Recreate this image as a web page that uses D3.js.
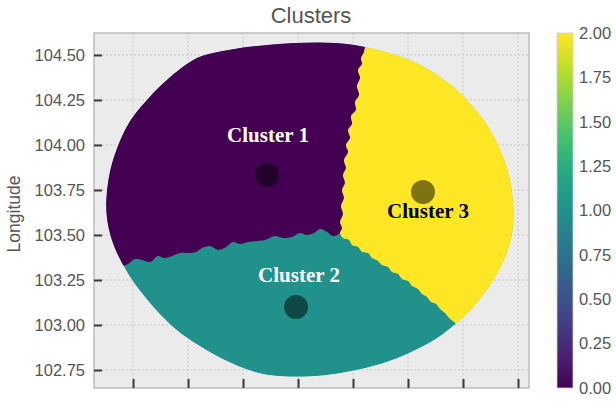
<!DOCTYPE html>
<html>
<head>
<meta charset="utf-8">
<script src="https://cdn.jsdelivr.net/npm/d3@7"></script>
<style>
  body { margin: 0; background: #fff; }
  svg { display: block; }
</style>
</head>
<body>
<svg id="chart" width="616" height="403"></svg>
<script>
// ---- axis limits and ticks ----
const xDomain = [1.1645, 1.56];
const yDomain = [102.65, 104.622];
const xTicks = [1.20, 1.25, 1.30, 1.35, 1.40, 1.45, 1.50, 1.55];
const yTicks = [102.75, 103.00, 103.25, 103.50, 103.75, 104.00, 104.25, 104.50];
const colorTicks = [0, 0.25, 0.5, 0.75, 1.0, 1.25, 1.5, 1.75, 2.0];

// ---- clusters ----
const clusterIds = [0, 1, 2];
const clusterNames = ["Cluster 1", "Cluster 2", "Cluster 3"];
const centroidX = [1.3218, 1.3482, 1.4636];
const centroidY = [103.833, 103.100, 103.739];
const labelX = [1.3227, 1.3509, 1.4682];
const labelY = [104.017, 103.239, 103.594];

// outer edge of the sampled area [x, longitude], clockwise from the upper left
const outline = [
  [1.2609, 104.500], [1.2882, 104.531], [1.3155, 104.553], [1.3427, 104.567],
  [1.3700, 104.572], [1.3973, 104.564], [1.4200, 104.533], [1.4427, 104.494],
  [1.4627, 104.444], [1.4791, 104.378], [1.4927, 104.317], [1.5036, 104.250],
  [1.5182, 104.150], [1.5291, 104.039], [1.5373, 103.928], [1.5427, 103.817],
  [1.5455, 103.706], [1.5464, 103.594], [1.5445, 103.489], [1.5391, 103.383],
  [1.5318, 103.294], [1.5236, 103.211], [1.5127, 103.122], [1.4991, 103.033],
  [1.4827, 102.950], [1.4636, 102.878], [1.4400, 102.811], [1.4136, 102.761],
  [1.3864, 102.728], [1.3609, 102.711], [1.3336, 102.711], [1.3109, 102.733],
  [1.2900, 102.783], [1.2673, 102.856], [1.2482, 102.928], [1.2318, 103.011],
  [1.2173, 103.106], [1.2045, 103.200], [1.1936, 103.300], [1.1855, 103.394],
  [1.1791, 103.494], [1.1755, 103.606], [1.1755, 103.706], [1.1773, 103.806],
  [1.1809, 103.906], [1.1864, 104.000], [1.1936, 104.100], [1.2027, 104.183],
  [1.2127, 104.250], [1.2227, 104.317], [1.2336, 104.378], [1.2473, 104.444]
];

// border between cluster 1 and cluster 3, top down to the triple point
const boundary13 = [
  [1.4118, 104.583], [1.4100, 104.517], [1.4073, 104.483], [1.4082, 104.450],
  [1.4045, 104.417], [1.4064, 104.372], [1.4036, 104.328], [1.4055, 104.278],
  [1.4018, 104.239], [1.4027, 104.194], [1.3982, 104.161], [1.3991, 104.117],
  [1.3955, 104.083], [1.3973, 104.039], [1.3936, 104.000], [1.3955, 103.961],
  [1.3918, 103.917], [1.3936, 103.872], [1.3909, 103.833], [1.3927, 103.789],
  [1.3900, 103.750], [1.3918, 103.706], [1.3891, 103.661], [1.3909, 103.617],
  [1.3882, 103.572], [1.3900, 103.539], [1.3882, 103.511]
];

// border between cluster 1 and cluster 2, triple point to the left edge
const boundary12 = [
  [1.3818, 103.494], [1.3764, 103.517], [1.3700, 103.533], [1.3645, 103.511],
  [1.3582, 103.500], [1.3518, 103.511], [1.3445, 103.489], [1.3364, 103.483],
  [1.3291, 103.494], [1.3200, 103.472], [1.3127, 103.467], [1.3045, 103.461],
  [1.2973, 103.450], [1.2909, 103.461], [1.2845, 103.433], [1.2773, 103.417],
  [1.2700, 103.439], [1.2627, 103.428], [1.2573, 103.406], [1.2500, 103.400],
  [1.2427, 103.400], [1.2355, 103.383], [1.2282, 103.372], [1.2227, 103.383],
  [1.2155, 103.350], [1.2082, 103.361], [1.2018, 103.367], [1.1955, 103.339],
  [1.1900, 103.328], [1.1809, 103.322], [1.1655, 103.317]
];

// border between cluster 2 and cluster 3, triple point to the lower right edge
const boundary23 = [
  [1.3909, 103.483], [1.3964, 103.472], [1.3991, 103.444], [1.4045, 103.433],
  [1.4082, 103.406], [1.4136, 103.400], [1.4173, 103.372], [1.4227, 103.356],
  [1.4264, 103.333], [1.4318, 103.322], [1.4355, 103.294], [1.4409, 103.283],
  [1.4445, 103.256], [1.4500, 103.244], [1.4536, 103.217], [1.4591, 103.200],
  [1.4627, 103.172], [1.4673, 103.156], [1.4709, 103.128], [1.4755, 103.117],
  [1.4791, 103.089], [1.4836, 103.067], [1.4873, 103.039], [1.4918, 103.017],
  [1.4973, 102.983], [1.5064, 102.939]
];

// ---- layout ----
const plot = { left: 94, right: 529, top: 33, bottom: 388 };
const svg = d3.select("#chart");
const sansFont = "'Liberation Sans', Arial, sans-serif";
const textGray = "#555";

const x = d3.scaleLinear().domain(xDomain).range([plot.left, plot.right]);
const y = d3.scaleLinear().domain(yDomain).range([plot.bottom, plot.top]);
const color = d3.scaleSequential(d3.interpolateViridis).domain([0, 2]);

// plot background
svg.append("rect")
  .attr("x", plot.left).attr("y", plot.top)
  .attr("width", plot.right - plot.left).attr("height", plot.bottom - plot.top)
  .attr("fill", "#ebebeb");

// dashed grid
const grid = svg.append("g").attr("stroke", "#c9c9c9").attr("stroke-width", 1)
  .attr("stroke-dasharray", "2,2");
grid.selectAll("line.gx").data(xTicks).join("line").attr("class", "gx")
  .attr("x1", d => x(d)).attr("x2", d => x(d))
  .attr("y1", plot.top).attr("y2", plot.bottom);
grid.selectAll("line.gy").data(yTicks).join("line").attr("class", "gy")
  .attr("y1", d => y(d)).attr("y2", d => y(d))
  .attr("x1", plot.left).attr("x2", plot.right);

// cluster regions
const ringLine = d3.line().x(d => x(d[0])).y(d => y(d[1]))
  .curve(d3.curveBasisClosed);
const edgeLine = d3.line().x(d => x(d[0])).y(d => y(d[1]))
  .curve(d3.curveCatmullRom.alpha(0.5));

svg.append("clipPath").attr("id", "area-clip")
  .append("path").attr("d", ringLine(outline));

const regions = svg.append("g").attr("clip-path", "url(#area-clip)");

// cluster 2 fills the whole area, the other two are laid over it
regions.append("path").attr("d", ringLine(outline)).attr("fill", color(clusterIds[1]));

const topY = y(yDomain[1]);
const bottomY = y(yDomain[0]);
const leftX = x(xDomain[0]);
const rightX = x(xDomain[1]);

const purplePath = edgeLine(boundary13.concat(boundary12)) +
  `L${leftX},${topY}L${x(boundary13[0][0])},${topY}Z`;
regions.append("path").attr("d", purplePath).attr("fill", color(clusterIds[0]));

const lastEdge = boundary23[boundary23.length - 1];
const yellowPath = edgeLine([...boundary23].reverse().concat([...boundary13].reverse())) +
  `L${x(boundary13[0][0])},${topY}L${rightX},${topY}L${rightX},${bottomY}` +
  `L${x(lastEdge[0])},${bottomY}Z`;
regions.append("path").attr("d", yellowPath).attr("fill", color(clusterIds[2]));

// frame
svg.append("rect")
  .attr("x", plot.left).attr("y", plot.top)
  .attr("width", plot.right - plot.left).attr("height", plot.bottom - plot.top)
  .attr("fill", "none").attr("stroke", "#bdbdbd").attr("stroke-width", 1.5);

// axes with inward ticks
const yAxis = d3.axisLeft(y).tickValues(yTicks).tickFormat(d3.format(".2f"))
  .tickSizeInner(-8).tickSizeOuter(0).tickPadding(9);
const gy = svg.append("g").attr("transform", `translate(${plot.left},0)`).call(yAxis);
gy.select(".domain").remove();
gy.selectAll(".tick line").attr("stroke", "#3a3a3a").attr("stroke-width", 2);
gy.selectAll(".tick text").attr("fill", textGray)
  .style("font-family", sansFont).style("font-size", "16.5px");

const xAxis = d3.axisBottom(x).tickValues(xTicks).tickFormat("")
  .tickSizeInner(-9).tickSizeOuter(0);
const gx = svg.append("g").attr("transform", `translate(0,${plot.bottom})`).call(xAxis);
gx.select(".domain").remove();
gx.selectAll(".tick line").attr("stroke", "#3a3a3a").attr("stroke-width", 2);

// centroids
svg.append("g").selectAll("circle").data(clusterIds).join("circle")
  .attr("cx", i => x(centroidX[i])).attr("cy", i => y(centroidY[i]))
  .attr("r", 12).attr("fill", "#000").attr("fill-opacity", 0.5);

// cluster labels
svg.append("g").selectAll("text").data(clusterIds).join("text")
  .attr("x", i => x(labelX[i])).attr("y", i => y(labelY[i]))
  .attr("text-anchor", "middle")
  .attr("fill", i => d3.lab(color(i)).l > 70 ? "#000" : "#fff")
  .style("font-family", "'Liberation Serif', 'Times New Roman', serif")
  .style("font-weight", "bold").style("font-size", "21px")
  .text(i => clusterNames[i]);

// title and axis label
svg.append("text").attr("x", 311).attr("y", 23).attr("text-anchor", "middle")
  .attr("fill", textGray).style("font-family", sansFont).style("font-size", "22px")
  .text("Clusters");

svg.append("text").attr("transform", "translate(20,214) rotate(-90)")
  .attr("text-anchor", "middle").attr("fill", textGray)
  .style("font-family", sansFont).style("font-size", "17.5px")
  .text("Longitude");

// colour bar
const cb = { x: 557, width: 16 };
const cbScale = d3.scaleLinear().domain([0, 2]).range([plot.bottom, plot.top]);
const grad = svg.append("defs").append("linearGradient").attr("id", "viridis-bar")
  .attr("x1", 0).attr("y1", 1).attr("x2", 0).attr("y2", 0);
grad.selectAll("stop").data(d3.range(0, 1.0001, 0.1)).join("stop")
  .attr("offset", t => t).attr("stop-color", t => d3.interpolateViridis(t));
svg.append("rect").attr("x", cb.x).attr("y", plot.top)
  .attr("width", cb.width).attr("height", plot.bottom - plot.top)
  .attr("fill", "url(#viridis-bar)").attr("stroke", "#d0d0d0").attr("stroke-width", 0.8);

const cbAxis = d3.axisRight(cbScale).tickValues(colorTicks).tickFormat(d3.format(".2f"))
  .tickSize(0).tickPadding(6);
const gcb = svg.append("g").attr("transform", `translate(${cb.x + cb.width},0)`).call(cbAxis);
gcb.select(".domain").remove();
gcb.selectAll(".tick text").attr("fill", textGray)
  .style("font-family", sansFont).style("font-size", "16.5px");
</script>
</body>
</html>
